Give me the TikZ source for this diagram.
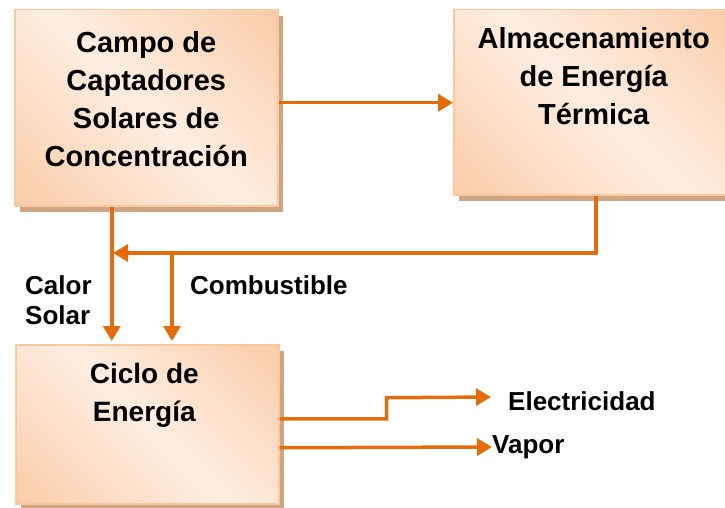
\documentclass[tikz,border=0pt]{standalone}
\usepackage{fontspec}
\setmainfont{Liberation Sans}
\usetikzlibrary{positioning,arrows.meta,shadows}
\definecolor{boxdark}{RGB}{248,190,145}
\definecolor{boxlight}{RGB}{254,238,225}
\definecolor{boxedge}{RGB}{250,200,158}
\definecolor{boxshadow}{RGB}{206,166,132}
\definecolor{flowcolor}{RGB}{228,108,10}
\pgfdeclarehorizontalshading{peachband}{100bp}{color(0bp)=(boxdark); color(50bp)=(boxlight); color(100bp)=(boxdark)}

\begin{document}
\begin{tikzpicture}[x=1pt,y=-1pt
,box/.style={draw=boxedge,line width=1.5pt,shading=peachband,shading angle=45,anchor=north west,inner sep=0pt,drop shadow={fill=boxshadow,opacity=1,shadow xshift=5pt,shadow yshift=-6pt}}
,boxtext/.style={font=\bfseries\fontsize{29}{38}\selectfont,align=center,inner sep=0pt}
,lbl/.style={font=\bfseries\fontsize{26}{30}\selectfont,align=left,inner sep=0pt}
,flow/.style={draw=flowcolor,line width=3.5pt,-{Triangle[length=15pt,width=17pt]}}
]
\clip (0,0) rectangle (725,508);
% blocks
\node[box,minimum width=263pt,minimum height=196pt] (campo) at (14,9) {};
\node[box,minimum width=280pt,minimum height=185pt] (almac) at (453,9) {};
\node[box,minimum width=263pt,minimum height=159pt] (ciclo) at (15,344) {};
\node[boxtext,below=22pt of campo.north] (campotxt) {Campo de\\Captadores\\Solares de\\Concentración};
\node[boxtext,below=18pt of almac.north] (almactxt) {Almacenamiento\\de Energía\\Térmica};
\node[boxtext,font=\bfseries\fontsize{28}{38}\selectfont,below=19pt of ciclo.north,xshift=-3pt] (ciclotxt) {Ciclo de\\Energía};
% labels
\node[lbl,anchor=west] (calor) at (25,300) {Calor\\Solar};
\node[lbl,anchor=west] (comb) at (190,285) {Combustible};
\node[lbl,anchor=west] (elec) at (508,401) {Electricidad};
\node[lbl,anchor=west] (vapor) at (492,447) {Vapor};
\coordinate (merge) at (113,253);
\coordinate (fuel) at (172,253);
% flows
\draw[flow] ([yshift=5pt]campo.east) -- ([yshift=5pt]campo.east -| almac.west);
\draw[flow,shorten >=3pt] ([xshift=-34.5pt]campo.south) -- ([xshift=-34.5pt]campo.south |- ciclo.north);
\draw[flow] ([xshift=2pt]almac.south) |- (merge);
\draw[flow,shorten >=3pt] (fuel) -- (fuel |- ciclo.north);
\draw[flow] ([yshift=5.5pt]ciclo.east) -- ++(107,0) -- ++(0,-21) -- ([xshift=-17pt,yshift=4pt]elec.west);
\draw[flow] ([yshift=-23.5pt]ciclo.east) -- (vapor.west);
\end{tikzpicture}
\end{document}
